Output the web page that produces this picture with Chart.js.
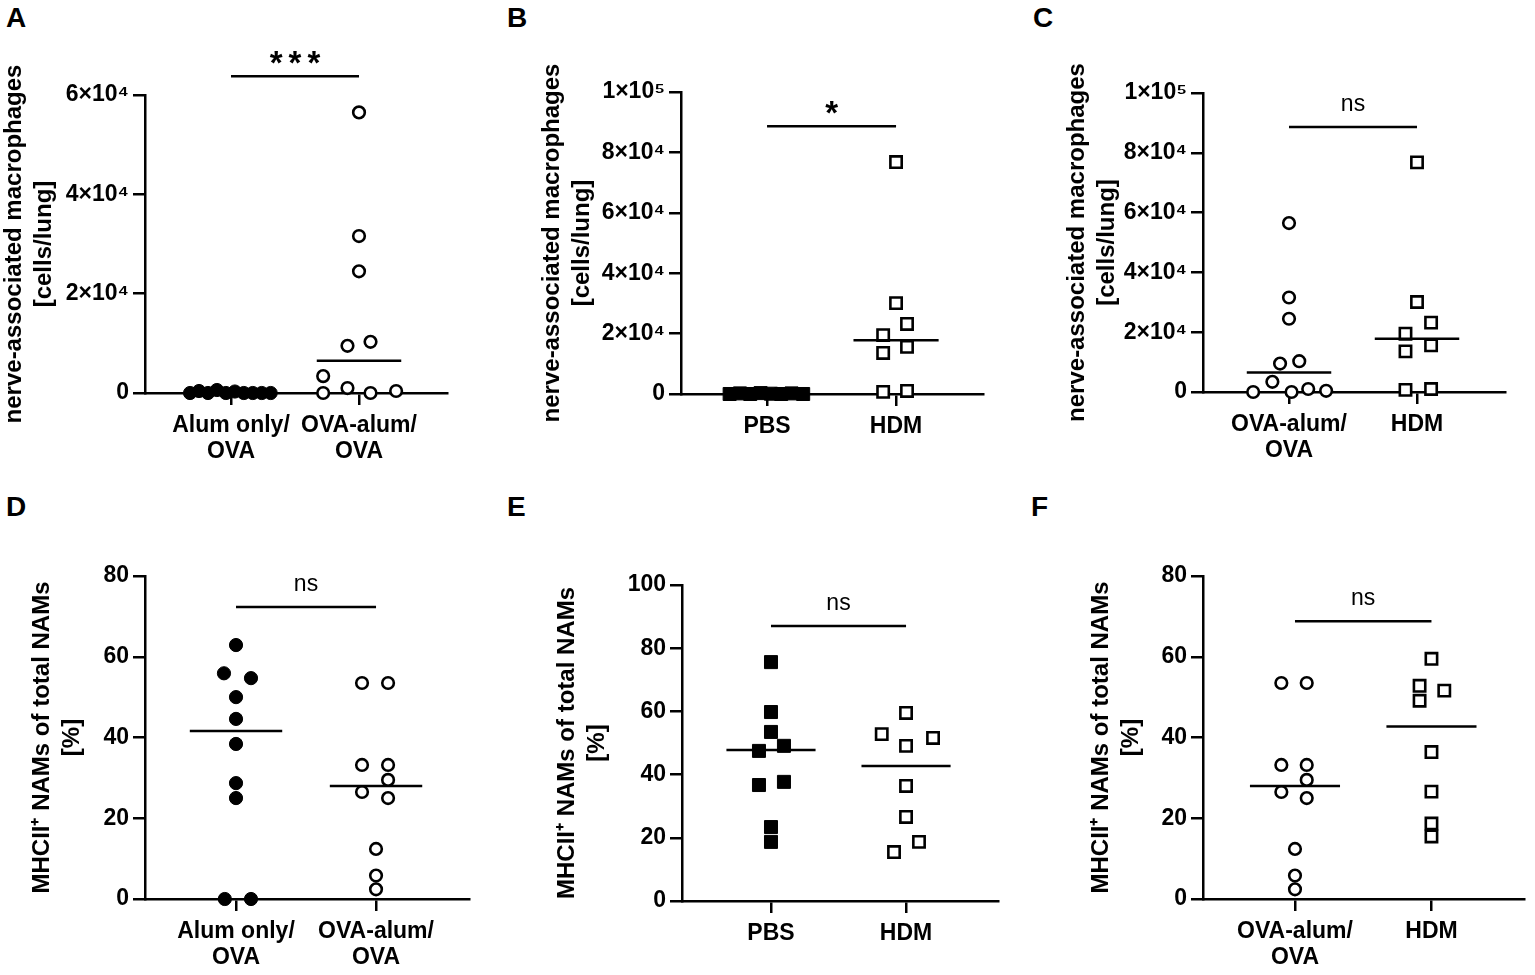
<!DOCTYPE html>
<html>
<head>
<meta charset="utf-8">
<script src="https://cdn.jsdelivr.net/npm/chart.js@4.4.1/dist/chart.umd.min.js"></script>
<style>
  body { margin: 0; background: #fff; width: 1535px; height: 975px; position: relative; overflow: hidden;
         font-family: "Liberation Sans", Arial, sans-serif; }
  .panel { position: absolute; }
  .letter { position: absolute; font-weight: bold; font-size: 28px; line-height: 28px; color: #000; }
</style>
</head>
<body>
<div class="letter" style="left:6px;top:4px">A</div>
<div class="letter" style="left:507px;top:4px">B</div>
<div class="letter" style="left:1033px;top:4px">C</div>
<div class="letter" style="left:6px;top:493px">D</div>
<div class="letter" style="left:507px;top:493px">E</div>
<div class="letter" style="left:1031px;top:493px">F</div>

<div class="panel" style="left:0px;top:40px;width:515px;height:430px"><canvas id="chartA"></canvas></div>
<div class="panel" style="left:520px;top:40px;width:495px;height:430px"><canvas id="chartB"></canvas></div>
<div class="panel" style="left:1030px;top:40px;width:505px;height:430px"><canvas id="chartC"></canvas></div>
<div class="panel" style="left:0px;top:490px;width:500px;height:485px"><canvas id="chartD"></canvas></div>
<div class="panel" style="left:530px;top:490px;width:480px;height:485px"><canvas id="chartE"></canvas></div>
<div class="panel" style="left:1030px;top:490px;width:505px;height:485px"><canvas id="chartF"></canvas></div>

<script>
// categories
const catsAlumOva = [["Alum only/", "OVA"], ["OVA-alum/", "OVA"]];
const catsPbsHdm = ["PBS", "HDM"];
const catsOvaHdm = [["OVA-alum/", "OVA"], "HDM"];

// tick labels
const countTicks6 = [0, 20000, 40000, 60000];
const countLabels6 = ["0", "2×10⁴", "4×10⁴", "6×10⁴"];
const countTicks10 = [0, 20000, 40000, 60000, 80000, 100000];
const countLabels10 = ["0", "2×10⁴", "4×10⁴", "6×10⁴", "8×10⁴", "1×10⁵"];
const pctTicks80 = [0, 20, 40, 60, 80];
const pctTicks100 = [0, 20, 40, 60, 80, 100];

const titleCount = ["nerve-associated macrophages", "[cells/lung]"];
const titlePct = ["MHCII⁺ NAMs of total NAMs", "[%]"];

// nerve-associated macrophages per lung (A-C)
const namAlum = [0, 400, 0, 600, 0, 300, 0, 0, 0, 0];
const namAlumJitter = [-0.32, -0.25, -0.18, -0.11, -0.04, 0.03, 0.10, 0.17, 0.24, 0.31];
const namOva = [0, 1000, 0, 400, 3400, 9500, 10300, 24500, 31600, 56500];
const namOvaJitterA = [-0.28, -0.09, 0.09, 0.29, -0.28, -0.09, 0.09, 0, 0, 0];
const namOvaJitterC = [-0.28, 0.15, 0.02, 0.29, -0.13, -0.07, 0.08, 0, 0, 0];
const namPbs = [0, 200, 0, 300, 100, 0, 200, 0];
const namPbsJitter = [-0.29, -0.21, -0.13, -0.05, 0.03, 0.11, 0.19, 0.28];
const namHdm = [76800, 30100, 23200, 19500, 15600, 13600, 700, 1000];
const namHdmJitterB = [0, 0, 0.085, -0.10, 0.085, -0.10, -0.10, 0.085];
const namHdmJitterC = [0, 0, 0.11, -0.09, 0.11, -0.09, -0.09, 0.11];

// MHCII+ NAMs, % of total (D-F)
const mhcAlum = [62.9, 55.9, 54.7, 50.0, 44.6, 38.4, 28.7, 25.0, 0, 0];
const mhcAlumJitter = [0, -0.086, 0.107, 0, 0, 0, 0, 0, -0.08, 0.107];
const mhcOva = [53.5, 53.5, 33.2, 33.2, 29.5, 26.5, 25.0, 12.4, 5.8, 2.4];
const mhcOvaJitter = [-0.10, 0.086, -0.10, 0.086, 0.086, -0.10, 0.086, 0, 0, 0];
const mhcPbs = [75.6, 59.8, 53.5, 49.1, 47.5, 37.7, 36.7, 23.4, 18.7];
const mhcPbsJitter = [0, 0, 0, 0.096, -0.089, 0.096, -0.089, 0, 0];
const mhcHdm = [59.5, 52.8, 51.6, 49.1, 36.4, 26.6, 18.7, 15.5];
const mhcHdmJitterE = [0, -0.18, 0.20, 0, 0, 0, 0.096, -0.089];
const mhcHdmJitterF = [0, -0.087, 0.094, -0.087, 0, 0, 0, 0];

// group medians per panel
const medianA = [0, 6500];
const medianB = [0, 17800];
const medianC = [6500, 17800];
const medianD = [41.6, 28.0];
const medianE = [47.8, 42.7];
const medianF = [28.0, 42.7];

// significance bars (A..F)
const sigLevels = [63800, 88700, 88600, 72.3, 87.0, 68.8];
const sigLabels = ["***", "*", "ns", "ns", "ns", "ns"];

const FONT = '"Liberation Sans", Arial, sans-serif';

const filledCircle = { pointStyle: "circle", pointRadius: 6.6, pointBackgroundColor: "#000", pointBorderColor: "#000", pointBorderWidth: 1 };
const openCircle = { pointStyle: "circle", pointRadius: 5.8, pointBackgroundColor: "#fff", pointBorderColor: "#000", pointBorderWidth: 2.6 };
const filledSquare = { pointStyle: "rect", pointRadius: 9.2, pointBackgroundColor: "#000", pointBorderColor: "#000", pointBorderWidth: 1 };
const openSquare = { pointStyle: "rect", pointRadius: 8, pointBackgroundColor: "#fff", pointBorderColor: "#000", pointBorderWidth: 2.6 };

function points(values, jitter, cat, style) {
  return Object.assign({
    data: values.map((v, i) => ({ x: cat + jitter[i], y: v })),
    pointHoverRadius: 0,
    clip: false
  }, style);
}

function segment(x0, x1, level) {
  return {
    type: "line",
    data: [{ x: x0, y: level }, { x: x1, y: level }],
    borderColor: "#000", borderWidth: 2.5, pointRadius: 0, pointHoverRadius: 0,
    fill: false, clip: false
  };
}

// "ns" / asterisks above the comparison bar
const sigLabel = {
  id: "sigLabel",
  afterDatasetsDraw(chart, args, opts) {
    const { ctx, scales: { x, y } } = chart;
    ctx.save();
    ctx.font = opts.font;
    ctx.fillStyle = "#000";
    ctx.textAlign = "center";
    ctx.textBaseline = "alphabetic";
    ctx.letterSpacing = opts.spacing + "px";
    ctx.fillText(opts.text, x.getPixelForValue(0.5) + opts.spacing / 2, y.getPixelForValue(opts.level) - opts.gap);
    ctx.restore();
  }
};

function makePanel(p) {
  const [bx, by, bw, bh] = p.box;
  const [ax0, ay0, ax1, ay1] = p.area;
  const lh = 24 * 1.25;
  const datasets = [
    segment(-0.33, 0.33, p.medians[0]),
    segment(0.67, 1.33, p.medians[1]),
    segment(0, 1, p.sigLevel),
    ...p.groups
  ];
  const isStar = p.sigText.indexOf("*") >= 0;
  return new Chart(document.getElementById(p.id), {
    type: "scatter",
    data: { datasets },
    options: {
      responsive: true,
      maintainAspectRatio: false,
      animation: false,
      events: [],
      layout: { padding: { top: ay0 - by, right: bx + bw - ax1, left: 0, bottom: 0 } },
      plugins: {
        legend: { display: false },
        tooltip: { enabled: false },
        sigLabel: {
          text: p.sigText,
          level: p.sigLevel,
          font: isStar ? "bold 33px " + FONT : "23px " + FONT,
          gap: isStar ? 2 : 16,
          spacing: p.sigText.length > 1 && isStar ? 6 : 0
        }
      },
      scales: {
        x: {
          type: "linear",
          min: p.xRange[0],
          max: p.xRange[1],
          afterBuildTicks: s => { s.ticks = [{ value: 0 }, { value: 1 }]; },
          afterFit: s => { s.height = by + bh - ay1; },
          ticks: {
            callback: v => p.cats[v],
            font: { family: FONT, size: 23, weight: "bold", lineHeight: 1.15 },
            color: "#000",
            padding: 7,
            maxRotation: 0,
            autoSkip: false
          },
          grid: { drawOnChartArea: false, tickLength: 12, color: "#000", lineWidth: 2.5 },
          border: { color: "#000", width: 2.5 }
        },
        y: {
          min: 0,
          max: p.yTicks[p.yTicks.length - 1],
          afterBuildTicks: s => { s.ticks = p.yTicks.map(v => ({ value: v })); },
          afterFit: s => { s.width = ax0 - bx; },
          ticks: {
            callback: (v, i) => p.yLabels[i],
            font: { family: FONT, size: 23, weight: "bold" },
            color: "#000",
            padding: 4
          },
          title: {
            display: true,
            text: p.title,
            color: "#000",
            font: { family: FONT, size: 24, weight: "bold", lineHeight: 1.25 },
            padding: { top: p.titleX - bx - lh / 2, bottom: 0 }
          },
          grid: { drawOnChartArea: false, tickLength: 12, color: "#000", lineWidth: 2.5 },
          border: { color: "#000", width: 2.5 }
        }
      }
    },
    plugins: [sigLabel]
  });
}

makePanel({
  id: "chartA", box: [0, 40, 515, 430], area: [145, 95, 447, 393], xRange: [-0.672, 1.6875],
  titleX: 14, title: titleCount, cats: catsAlumOva, yTicks: countTicks6, yLabels: countLabels6,
  medians: medianA, sigLevel: sigLevels[0], sigText: sigLabels[0],
  groups: [points(namAlum, namAlumJitter, 0, filledCircle), points(namOva, namOvaJitterA, 1, openCircle)]
});
makePanel({
  id: "chartB", box: [520, 40, 495, 430], area: [681, 92, 983, 394], xRange: [-0.667, 1.674],
  titleX: 552, title: titleCount, cats: catsPbsHdm, yTicks: countTicks10, yLabels: countLabels10,
  medians: medianB, sigLevel: sigLevels[1], sigText: sigLabels[1],
  groups: [points(namPbs, namPbsJitter, 0, filledSquare), points(namHdm, namHdmJitterB, 1, openSquare)]
});
makePanel({
  id: "chartC", box: [1030, 40, 505, 430], area: [1203, 93, 1505, 392], xRange: [-0.672, 1.6875],
  titleX: 1077, title: titleCount, cats: catsOvaHdm, yTicks: countTicks10, yLabels: countLabels10,
  medians: medianC, sigLevel: sigLevels[2], sigText: sigLabels[2],
  groups: [points(namOva, namOvaJitterC, 0, openCircle), points(namHdm, namHdmJitterC, 1, openSquare)]
});
makePanel({
  id: "chartD", box: [0, 490, 500, 485], area: [145, 576, 469, 899], xRange: [-0.65, 1.664],
  titleX: 42, title: titlePct, cats: catsAlumOva, yTicks: pctTicks80, yLabels: pctTicks80.map(String),
  medians: medianD, sigLevel: sigLevels[3], sigText: sigLabels[3],
  groups: [points(mhcAlum, mhcAlumJitter, 0, filledCircle), points(mhcOva, mhcOvaJitter, 1, openCircle)]
});
makePanel({
  id: "chartE", box: [530, 490, 480, 485], area: [682, 585, 998, 901], xRange: [-0.659, 1.681],
  titleX: 567, title: titlePct, cats: catsPbsHdm, yTicks: pctTicks100, yLabels: pctTicks100.map(String),
  medians: medianE, sigLevel: sigLevels[4], sigText: sigLabels[4],
  groups: [points(mhcPbs, mhcPbsJitter, 0, filledSquare), points(mhcHdm, mhcHdmJitterE, 1, openSquare)]
});
makePanel({
  id: "chartF", box: [1030, 490, 505, 485], area: [1203, 576, 1528, 899], xRange: [-0.674, 1.681],
  titleX: 1101, title: titlePct, cats: catsOvaHdm, yTicks: pctTicks80, yLabels: pctTicks80.map(String),
  medians: medianF, sigLevel: sigLevels[5], sigText: sigLabels[5],
  groups: [points(mhcOva, mhcOvaJitter, 0, openCircle), points(mhcHdm, mhcHdmJitterF, 1, openSquare)]
});
</script>
</body>
</html>
